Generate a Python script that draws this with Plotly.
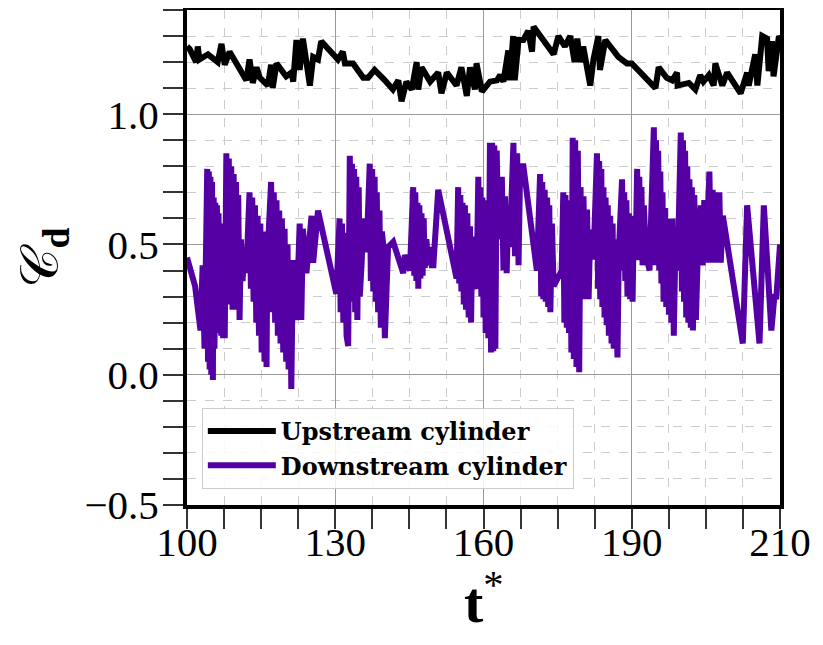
import plotly.graph_objects as go

# ---------------- data ----------------
t_up = [100.0, 100.5, 101.7, 102.0, 102.3, 103.9, 105.7, 106.4, 107.0, 107.9, 111.0, 111.6, 112.2,
        112.9, 113.5, 115.0, 115.6, 115.9, 116.6, 118.4, 119.4, 119.7, 120.3, 120.9, 121.5, 122.8,
        123.4, 124.3, 124.9, 128.0, 128.9, 129.3, 130.8, 132.7, 133.6, 134.8, 136.7, 138.2, 139.2,
        139.8, 140.7, 141.7, 142.6, 142.9, 143.5, 145.1, 146.6, 147.2, 148.2, 150.0, 150.9, 151.9,
        152.5, 153.4, 153.7, 154.7, 156.2, 157.5, 158.1, 158.7, 159.6, 159.9, 160.5, 160.8, 161.5,
        162.4, 163.3, 164.0, 164.3, 165.2, 166.4, 168.0, 168.9, 170.1, 171.1, 171.9, 172.4, 172.9,
        173.5, 174.5, 174.8, 175.4, 176.3, 176.6, 177.6, 180.0, 181.6, 182.5, 186.9, 187.5, 189.0,
        190.0, 190.9, 191.0, 193.1, 194.3, 195.2, 195.8, 196.8, 197.7, 198.0, 199.3, 200.2, 202.7,
        203.9, 204.2, 205.4, 205.8, 206.7, 207.6, 207.9, 208.5, 208.8, 209.8, 210.0]
cd_up = [1.26, 1.25, 1.20, 1.26, 1.21, 1.23, 1.20, 1.27, 1.19, 1.24, 1.13, 1.21, 1.12,
         1.18, 1.14, 1.11, 1.19, 1.10, 1.195, 1.145, 1.16, 1.125, 1.285, 1.17, 1.29, 1.11,
         1.22, 1.21, 1.28, 1.21, 1.24, 1.195, 1.195, 1.14, 1.14, 1.17, 1.13, 1.095, 1.13,
         1.05, 1.125, 1.095, 1.20, 1.095, 1.18, 1.125, 1.16, 1.08, 1.16, 1.11, 1.18, 1.07,
         1.18, 1.095, 1.195, 1.087, 1.125, 1.13, 1.15, 1.125, 1.245, 1.13, 1.30, 1.13, 1.285,
         1.285, 1.32, 1.24, 1.336, 1.31, 1.27, 1.23, 1.30, 1.26, 1.30, 1.20, 1.29, 1.20,
         1.26, 1.145, 1.11, 1.21, 1.30, 1.17, 1.285, 1.22, 1.195, 1.195, 1.10, 1.18, 1.14,
         1.13, 1.16, 1.11, 1.12, 1.095, 1.15, 1.125, 1.15, 1.11, 1.195, 1.11, 1.16, 1.08,
         1.16, 1.11, 1.23, 1.11, 1.30, 1.29, 1.165, 1.28, 1.145, 1.30, 1.29]

t_down = [
    100.0, 100.8, 101.5, 102.5, 102.9, 103.25,
    103.75, 103.9, 104.05, 104.2, 104.35, 104.5, 104.65, 104.8, 104.95, 105.1, 105.25, 105.4,
    105.55, 105.7, 105.85, 106.0, 106.2, 106.35, 106.5, 106.7, 106.85, 107.0,
    107.3, 107.5, 107.75, 108.0, 108.2, 108.45, 108.65, 108.9, 109.1, 109.3, 109.5, 109.75,
    110.0, 110.3, 110.7, 111.0,
    111.6, 111.85, 112.1, 112.35, 112.6, 112.85, 113.1, 113.35, 113.6, 113.85, 114.1, 114.4,
    114.6, 114.75, 114.9,
    115.6, 115.85, 116.1, 116.35, 116.6, 116.85, 117.1, 117.35, 117.6, 117.85, 118.1, 118.4,
    118.65, 118.85, 119.1, 119.35, 119.65,
    120.3, 120.9, 121.2, 121.5, 122.15, 123.1, 123.4, 124.3, 127.7,
    128.3, 128.5, 128.75, 129.0, 129.25, 129.6, 129.9,
    130.2, 130.4, 130.6, 130.8, 131.0, 131.2, 131.4, 131.6, 131.85, 132.05, 132.4, 132.7, 133.3,
    133.9, 134.1, 134.35, 134.55, 134.8, 135.0, 135.2, 135.45, 135.7, 135.95, 136.15, 136.4,
    136.7, 137.0, 137.3, 138.25, 139.2, 140.1, 140.4, 141.35,
    141.96, 142.15, 142.35, 142.55, 142.75, 142.9, 143.1, 143.3, 143.5, 143.7, 143.9, 144.1,
    144.4, 144.75, 145.06, 145.4, 145.7, 146.6, 150.0,
    150.3, 150.5, 150.7, 150.9, 151.1, 151.35, 151.55, 151.75, 152.0, 152.25, 152.5, 152.7,
    152.9, 153.1, 153.7,
    154.04, 154.2, 154.4, 154.6, 154.8, 155.0, 155.2, 155.4, 155.6, 155.9,
    156.2, 156.4, 156.6, 156.8, 157.0, 157.2, 157.45, 157.76, 158.4, 158.7, 159.0, 159.3,
    159.6, 159.9, 160.55, 160.85, 161.2, 161.5, 161.8, 162.4, 164.9,
    165.5, 165.7, 165.9, 166.1, 166.35, 166.55, 166.8, 167.0, 167.2, 167.4, 167.7, 168.0, 169.5,
    169.8, 170.0, 170.2, 170.45, 170.65, 170.85, 171.07, 171.3, 171.55, 171.75, 172.0, 172.25,
    172.5, 172.75, 173.0, 173.25, 173.55, 173.9, 174.2, 174.5, 174.8, 175.4,
    176.05, 176.25, 176.45, 176.65, 176.85, 177.05, 177.25, 177.45, 177.65, 177.85, 178.05,
    178.25, 178.5, 178.75, 178.95, 179.15, 179.4, 179.65, 179.85, 180.1,
    180.7, 180.9, 181.1, 181.3, 181.5, 181.7, 181.95, 182.2, 182.45, 182.65, 182.9, 183.2,
    183.5, 183.7, 183.9, 184.1, 184.3, 184.5, 184.75, 185.1, 185.8,
    186.6, 186.8, 187.0, 187.2, 187.4, 187.6, 187.8, 188.0, 188.2, 188.4, 188.65, 188.9,
    189.15, 189.4, 189.65, 189.85, 190.05, 190.3, 190.65, 191.0,
    191.6, 191.8, 192.0, 192.2, 192.4, 192.6, 192.8, 193.0, 193.2, 193.45, 193.65, 193.85,
    194.1, 194.4, 194.8, 195.3, 195.65, 195.95, 196.3, 196.6, 196.9, 197.2, 197.5, 197.8,
    198.15, 198.45, 198.75, 199.0, 199.4,
    203.1, 203.9, 206.2, 207.0, 208.4, 209.0, 209.3, 210.0]
cd_down = [
    0.45, 0.38, 0.34, 0.17, 0.42, 0.10,
    0.79, 0.05, 0.78, 0.02, 0.76, 0.00, 0.74, -0.02, 0.68, 0.10, 0.66, 0.21,
    0.65, 0.18, 0.62, 0.16, 0.58, 0.15, 0.55, 0.14, 0.45, 0.14,
    0.85, 0.30, 0.83, 0.27, 0.80, 0.25, 0.77, 0.25, 0.74, 0.26, 0.69, 0.21,
    0.52, 0.36, 0.49, 0.39,
    0.70, 0.33, 0.68, 0.28, 0.65, 0.20, 0.61, 0.15, 0.58, 0.085, 0.55, 0.05,
    0.46, 0.03, 0.44,
    0.74, 0.24, 0.70, 0.20, 0.67, 0.15, 0.63, 0.12, 0.60, 0.085, 0.56, 0.05,
    0.50, 0.02, 0.44, -0.055, 0.44,
    0.21, 0.58, 0.21, 0.56, 0.39, 0.61, 0.43, 0.63, 0.31,
    0.60, 0.24, 0.58, 0.20, 0.545, 0.15, 0.11,
    0.84, 0.30, 0.81, 0.28, 0.79, 0.24, 0.76, 0.21, 0.72, 0.30, 0.43, 0.60, 0.47,
    0.81, 0.36, 0.79, 0.32, 0.76, 0.28, 0.70, 0.24, 0.63, 0.18, 0.55, 0.50,
    0.14, 0.40, 0.49, 0.51, 0.455, 0.39, 0.46, 0.40,
    0.72, 0.38, 0.70, 0.36, 0.66, 0.33, 0.65, 0.37, 0.62, 0.38, 0.60, 0.41,
    0.52, 0.42, 0.49, 0.42, 0.42, 0.71, 0.37,
    0.72, 0.35, 0.69, 0.32, 0.66, 0.27, 0.65, 0.25, 0.62, 0.22, 0.57, 0.20,
    0.53, 0.37, 0.33,
    0.76, 0.34, 0.72, 0.30, 0.68, 0.22, 0.67, 0.16, 0.66, 0.14,
    0.89, 0.085, 0.89, 0.09, 0.88, 0.10, 0.86, 0.52, 0.76, 0.40, 0.685, 0.39,
    0.63, 0.49, 0.89, 0.455, 0.85, 0.42, 0.80, 0.80, 0.40,
    0.77, 0.30, 0.74, 0.29, 0.71, 0.28, 0.68, 0.26, 0.65, 0.24, 0.58, 0.34, 0.40,
    0.70, 0.20, 0.69, 0.18, 0.67, 0.16, 0.63, 0.085, 0.91, 0.06, 0.90, 0.03,
    0.86, 0.01, 0.72, 0.29, 0.685, 0.29, 0.634, 0.29, 0.557, 0.443,
    0.85, 0.33, 0.82, 0.29, 0.79, 0.26, 0.72, 0.22, 0.68, 0.19, 0.65,
    0.15, 0.61, 0.12, 0.58, 0.10, 0.52, 0.08, 0.066, 0.47,
    0.75, 0.40, 0.70, 0.36, 0.67, 0.30, 0.62, 0.29, 0.61, 0.28, 0.60, 0.44,
    0.79, 0.44, 0.76, 0.44, 0.72, 0.42, 0.65, 0.47, 0.40,
    0.95, 0.42, 0.90, 0.42, 0.86, 0.40, 0.78, 0.35, 0.70, 0.28, 0.64, 0.26,
    0.60, 0.23, 0.58, 0.20, 0.60, 0.15, 0.56, 0.40,
    0.93, 0.32, 0.90, 0.28, 0.86, 0.22, 0.80, 0.20, 0.75, 0.18, 0.72, 0.17,
    0.69, 0.21, 0.50, 0.65, 0.42, 0.67, 0.43, 0.55, 0.78, 0.43, 0.71, 0.43,
    0.70, 0.43, 0.70, 0.43, 0.61,
    0.12, 0.65, 0.12, 0.65, 0.17, 0.31, 0.29, 0.50]

x_tick_vals = [100, 127.5, 155, 182.5, 210]
x_tick_labels = ["100", "130", "160", "190", "210"]
y_tick_vals = [-0.5, 0.0, 0.5, 1.0]
y_tick_labels = ["\u22120.5", "0.0", "0.5", "1.0"]

# ---------------- figure ----------------
PURPLE = "#5500a5"
SERIF = "Liberation Serif, DejaVu Serif, serif"

fig = go.Figure()
fig.add_trace(go.Scatter(x=t_up, y=cd_up, mode="lines", name="<b>Upstream cylinder</b>",
                         line=dict(color="black", width=6)))
fig.add_trace(go.Scatter(x=t_down, y=cd_down, mode="lines", name="<b>Downstream cylinder</b>",
                         line=dict(color=PURPLE, width=6)))

axis_common = dict(
    showline=True, linecolor="black", linewidth=4, mirror=True,
    ticks="outside", ticklen=20, tickwidth=1.5, tickcolor="#333",
    showgrid=True, gridcolor="#999999", gridwidth=1,
    zeroline=False, automargin=False,
    tickfont=dict(family=SERIF, size=41, color="black"),
)

fig.update_xaxes(
    **axis_common,
    range=[100, 210],
    tickmode="array", tickvals=x_tick_vals, ticktext=x_tick_labels,
    ticklabelstandoff=-22,
    minor=dict(tick0=100, dtick=6.875, ticks="outside", ticklen=20, tickwidth=1.5,
               tickcolor="#333", showgrid=True, gridcolor="#cccccc", griddash="dash", gridwidth=1),
)
fig.update_yaxes(
    **axis_common,
    range=[-0.5, 1.4],
    tickmode="array", tickvals=y_tick_vals, ticktext=y_tick_labels,
    ticklabelstandoff=-4,
    minor=dict(tick0=-0.5, dtick=0.1, ticks="outside", ticklen=20, tickwidth=1.5,
               tickcolor="#333", showgrid=True, gridcolor="#cccccc", griddash="dash", gridwidth=1),
    title=dict(text="\U0001D49E<sub><b>d</b></sub>", font=dict(family=SERIF, size=54, color="black"),
               standoff=10),
)

fig.add_annotation(
    text="<b>t</b><sup>*</sup>", xref="paper", yref="paper", x=0.5, y=-0.188,
    xanchor="center", yanchor="middle", showarrow=False,
    font=dict(family=SERIF, size=58, color="black"),
)

fig.update_layout(
    width=823, height=645,
    margin=dict(l=179, r=51, t=2, b=148),
    paper_bgcolor="white", plot_bgcolor="white",
    showlegend=True,
    legend=dict(x=0.025, y=0.196, xanchor="left", yanchor="top",
                bgcolor="rgba(255,255,255,0.85)", bordercolor="#cccccc", borderwidth=1,
                font=dict(family="DejaVu Serif, serif", size=24, color="black"),
                itemwidth=68, tracegroupgap=0),
)

fig.write_html("out.html")
